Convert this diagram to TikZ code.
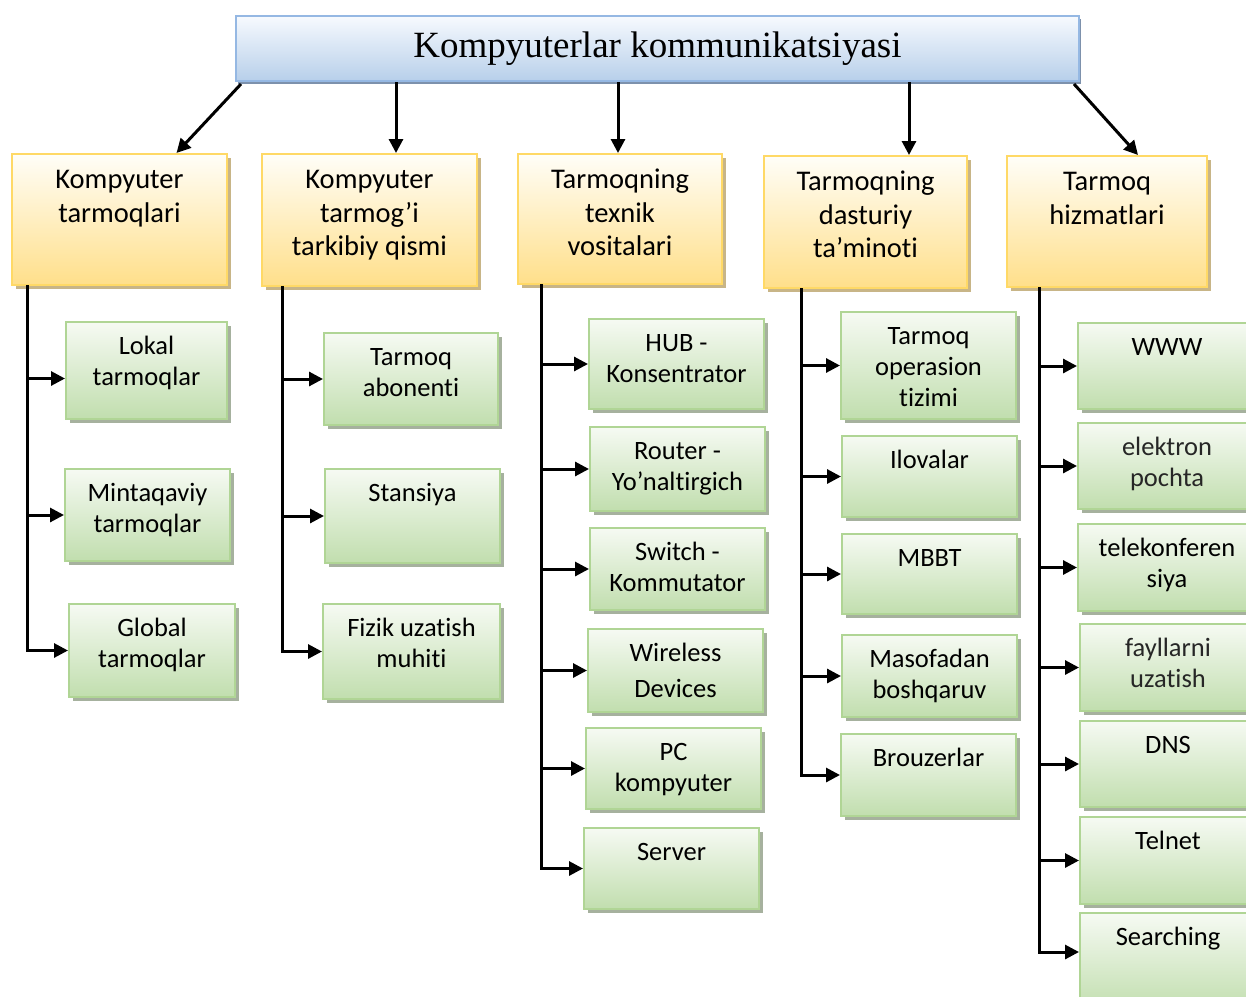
\documentclass[tikz,border=0pt]{standalone}
\usepackage{fontspec}
\setmainfont{Carlito}[Ligatures={NoCommon,NoContextual,NoRequired},Contextuals={NoAlternate}]
\newfontfamily\titlefont{Liberation Serif}
\usetikzlibrary{arrows.meta,shadows,calc}
\newcommand\tii{t\kern0pt i}
\definecolor{bluetop}{HTML}{F7FAFE}
\definecolor{bluebot}{HTML}{B7CFEA}
\definecolor{blueline}{HTML}{95B8E3}
\definecolor{blueshadow}{HTML}{6F85A3}
\definecolor{yeltop}{HTML}{FFFEF8}
\definecolor{yelbot}{HTML}{FFDF8A}
\definecolor{yelline}{HTML}{FFD966}
\definecolor{yelshadow}{HTML}{C2AD7A}
\definecolor{grntop}{HTML}{F6FAF3}
\definecolor{grnbot}{HTML}{C1DEAE}
\definecolor{grnline}{HTML}{B0D595}
\definecolor{grnshadow}{HTML}{9CA894}
\tikzset{
  topbox/.style={draw=blueline, line width=2pt, top color=bluetop, bottom color=bluebot,
    drop shadow={shadow xshift=2pt, shadow yshift=-3pt, fill=blueshadow, opacity=0.9}},
  ybox/.style={draw=yelline, line width=2pt, top color=yeltop, bottom color=yelbot,
    font=\fontsize{28.5}{33.5}\selectfont,
    drop shadow={shadow xshift=3.5pt, shadow yshift=-3.5pt, fill=yelshadow, opacity=0.9}},
  gbox/.style={draw=grnline, line width=2pt, top color=grntop, bottom color=grnbot,
    font=\fontsize{26.5}{31}\selectfont,
    drop shadow={shadow xshift=3.5pt, shadow yshift=-3.5pt, fill=grnshadow, opacity=0.9}},
  arr/.style={line width=3pt, -{Triangle[length=14pt,width=14pt]}},
  trunk/.style={line width=3pt, line cap=rect},
}
% style, name, x1, y1, x2, y2, pad, text
\newcommand\mkbox[8]{%
  \node[#1,anchor=north west,inner sep=0pt] (#2) at (#3,#4)
  {\begin{minipage}[t][\dimexpr#6pt-#4pt\relax][t]{\dimexpr#5pt-#3pt\relax}\centering\vspace*{#7pt}\strut #8\end{minipage}};}
\newcommand\ybx[6]{\mkbox{ybox}{#1}{#2}{#3}{#4}{#5}{11.5}{#6}}
\newcommand\gbx[6]{\mkbox{gbox}{#1}{#2}{#3}{#4}{#5}{11}{#6}}
\begin{document}
\begin{tikzpicture}[x=1pt,y=-1pt]
\useasboundingbox (0,0) rectangle (1246,996);
\node[topbox, anchor=north west, minimum width=843pt, minimum height=65pt, inner sep=0pt] (top) at (235,15)
  {\titlefont\fontsize{37}{40}\selectfont Kompyuterlar kommunikatsiyasi};
% yellow
\ybx{y1}{11}{153}{226}{284}{Kompyuter\\tarmoqlari}
\ybx{y2}{261}{153}{476}{285}{Kompyuter\\tarmog’i\\tarkibiy qismi}
\ybx{y3}{517}{153}{721}{283}{Tarmoqning\\texnik\\vositalari}
\ybx{y4}{763}{155}{966}{287}{Tarmoqning\\dasturiy\\ta’mino\tii}
\ybx{y5}{1006}{155}{1206}{286}{Tarmoq\\hizmatlari}
% green col 1
\gbx{g11}{65}{321}{226}{418}{Lokal\\tarmoqlar}
\gbx{g12}{64}{468}{229}{560}{Mintaqaviy\\tarmoqlar}
\gbx{g13}{68}{603}{234}{696}{Global\\tarmoqlar}
% col 2
\gbx{g21}{323}{332}{497}{424}{Tarmoq\\abonen\tii}
\gbx{g22}{324}{468}{499}{562}{Stansiya}
\gbx{g23}{322}{603}{499}{698}{Fizik uza\tii sh\\muhi\tii}
% col 3
\gbx{g31}{588}{318}{763}{408}{HUB -\\Konsentrator}
\gbx{g32}{589}{426}{764}{510}{Router -\\Yo’naltirgich}
\gbx{g33}{589}{527}{764}{609}{Switch -\\Kommutator}
\gbx{g34}{587}{628}{762}{711}{Wireless\\[5pt]Devices}
\gbx{g35}{585}{727}{760}{808}{PC\\kompyuter}
\gbx{g36}{583}{827}{758}{908}{Server}
% col 4
\gbx{g41}{840}{311}{1015}{418}{Tarmoq\\operasion\\\tii zimi}
\gbx{g42}{841}{435}{1016}{516}{Ilovalar}
\gbx{g43}{841}{533}{1016}{613}{MBBT}
\gbx{g44}{841}{634}{1016}{716}{Masofadan\\boshqaruv}
\gbx{g45}{840}{733}{1015}{815}{Brouzerlar}
% col 5
\gbx{g51}{1077}{322}{1255}{408}{WWW}
\gbx{g52}{1077}{422}{1255}{508}{\color{black!85}elektron\\pochta}
\gbx{g53}{1077}{523}{1255}{610}{telekonferen\\siya}
\gbx{g54}{1079}{623}{1255}{710}{\color{black!85}fayllarni\\uza\tii sh}
\gbx{g55}{1079}{720}{1255}{806}{DNS}
\gbx{g56}{1079}{816}{1255}{903}{Telnet}
\gbx{g57}{1079}{912}{1255}{1010}{Searching}
% arrows from top
\coordinate (a1s) at ([xshift=6pt,yshift=-2pt]top.south west);
\coordinate (a1e) at ([xshift=57pt]y1.north);
\draw[arr] (a1s) -- (a1e);
\coordinate (a2) at ([xshift=26.5pt]y2.north);
\draw[arr] (top.south -| a2) -- (a2);
\coordinate (a3) at ([xshift=-2pt]y3.north);
\draw[arr] (top.south -| a3) -- (a3);
\coordinate (a4) at ([xshift=43.5pt]y4.north);
\draw[arr] (top.south -| a4) -- (a4);
\coordinate (a5s) at ([xshift=-6pt,yshift=-2pt]top.south east);
\coordinate (a5e) at ([xshift=31pt]y5.north);
\draw[arr] (a5s) -- (a5e);
% trunks
\coordinate (t1) at ([xshift=16pt]y1.south west);
\coordinate (t2) at ([xshift=21pt]y2.south west);
\coordinate (t3) at ([xshift=24pt]y3.south west);
\coordinate (t4) at ([xshift=38pt]y4.south west);
\coordinate (t5) at ([xshift=33pt]y5.south west);
\draw[trunk] (t1) -- (t1 |- g13.west);
\draw[trunk] (t2) -- (t2 |- g23.west);
\draw[trunk] (t3) -- (t3 |- g36.west);
\draw[trunk] (t4) -- (t4 |- g45.west);
\draw[trunk] (t5) -- (t5 |- 0,952);
\coordinate (e11) at ([yshift=-8pt]g11.west);
\draw[arr] (t1 |- e11) -- (e11);
\foreach \n in {g12,g13} \draw[arr] (t1 |- \n.west) -- (\n.west);
\foreach \n in {g21,g22,g23} \draw[arr] (t2 |- \n.west) -- (\n.west);
\foreach \n in {g31,g32,g33,g34,g35,g36} \draw[arr] (t3 |- \n.west) -- (\n.west);
\foreach \n in {g41,g42,g43,g44,g45} \draw[arr] (t4 |- \n.west) -- (\n.west);
\foreach \n in {g51,g52,g53,g54,g55,g56} \draw[arr] (t5 |- \n.west) -- (\n.west);
\coordinate (s57) at (g57.north west |- 0,952);
\draw[arr] (t5 |- s57) -- (s57);
\end{tikzpicture}
\end{document}
